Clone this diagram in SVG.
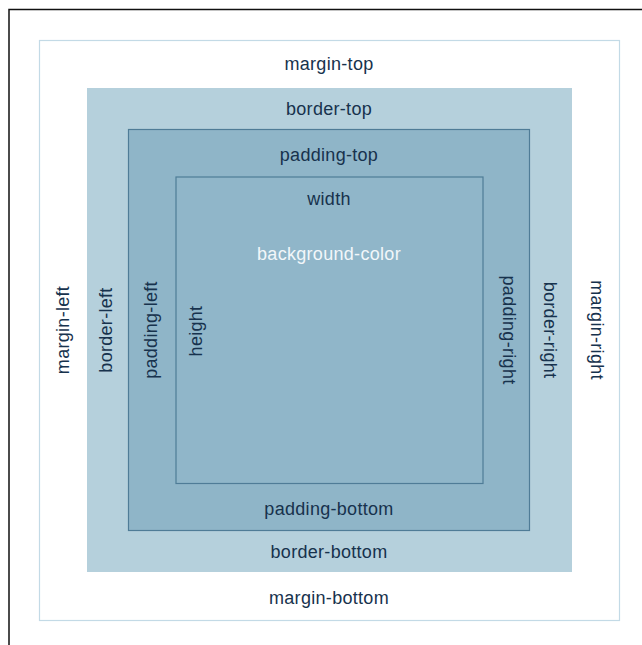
<svg xmlns="http://www.w3.org/2000/svg" width="642" height="645" viewBox="0 0 642 645">
  <style>
    text { font-family: "Liberation Sans", Arial, sans-serif; font-size: 18px; letter-spacing: 0.3px; fill: #17324d; text-anchor: middle; dominant-baseline: central; }
    .light { fill: #f2f7fa; }
  </style>
  <rect width="642" height="645" fill="#ffffff"/>
  <!-- outer frame -->
  <path d="M9 645 V9.5 H642" fill="none" stroke="#111" stroke-width="1.5"/>
  <g id="margin">
    <rect x="39.5" y="40.5" width="580" height="580" fill="#ffffff" stroke="#c3dae6" stroke-width="1.2"/>
    <text x="329" y="64">margin-top</text>
    <text x="329" y="598">margin-bottom</text>
    <text transform="translate(63 330) rotate(-90)">margin-left</text>
    <text transform="translate(597 330) rotate(90)">margin-right</text>
  </g>
  <g id="border">
    <rect x="87" y="88" width="485" height="484" fill="#b5d0dc"/>
    <text x="329" y="109">border-top</text>
    <text x="329" y="552">border-bottom</text>
    <text transform="translate(106 330) rotate(-90)">border-left</text>
    <text transform="translate(550 330) rotate(90)">border-right</text>
  </g>
  <g id="padding">
    <rect x="128.5" y="129.5" width="401" height="401" fill="#8fb5c8" stroke="#4f7c97" stroke-width="1.2"/>
    <text x="329" y="155">padding-top</text>
    <text x="329" y="509">padding-bottom</text>
    <text transform="translate(151 330) rotate(-90)">padding-left</text>
    <text transform="translate(509 330) rotate(90)">padding-right</text>
  </g>
  <g id="content">
    <rect x="176" y="177" width="307" height="306.5" fill="#90b6c9" stroke="#4f7c97" stroke-width="1.2"/>
    <text x="329" y="199">width</text>
    <text class="light" x="329" y="254">background-color</text>
    <text transform="translate(196 331) rotate(-90)">height</text>
  </g>
</svg>
